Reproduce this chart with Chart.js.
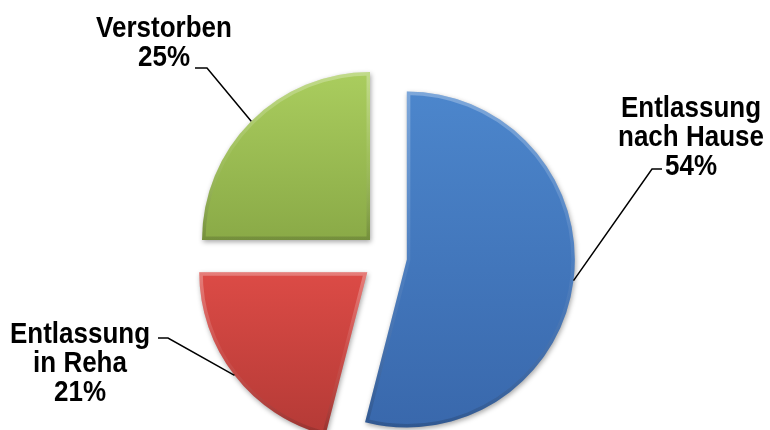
<!DOCTYPE html>
<html>
<head>
<meta charset="utf-8">
<script src="https://cdn.jsdelivr.net/npm/chart.js@4.4.1/dist/chart.umd.min.js"></script>
<style>
  html, body { margin: 0; background: #fff; }
  #wrap { width: 770px; height: 430px; }
</style>
</head>
<body>
<div id="wrap"><canvas id="c"></canvas></div>
<script>
// Entlassungsart — Anteile in Prozent
const categories = ['Entlassung nach Hause', 'Entlassung in Reha', 'Verstorben'];
const shares = [54, 21, 25];
const labelLines = [['Entlassung', 'nach Hause'], ['Entlassung', 'in Reha'], ['Verstorben']];

const topColors = ['#4C86CC', '#DC4B46', '#AACD5E'];
const bottomColors = ['#3968AC', '#B43A36', '#8AAA47'];

const RADIUS = 168;
const EXPLODE = [20, 25, 24];   // px each slice is pulled out along its mid-angle
const LINE_H = 29;

// label anchor: centre x, first baseline, knee and tail of the leader line
const labelLayout = [
  { x: 691, y: 117, knee: [652, 169], tail: [662, 169] },
  { x: 80,  y: 343, knee: [168, 338], tail: [158, 338] },
  { x: 164, y: 37,  knee: [207, 68],  tail: [195, 68] }
];

function sliceBox(el) {
  let ymin = el.y, ymax = el.y;
  for (let s = 0; s <= 40; s++) {
    const a = el.startAngle + (el.endAngle - el.startAngle) * s / 40;
    const y = el.y + Math.sin(a) * el.outerRadius;
    ymin = Math.min(ymin, y); ymax = Math.max(ymax, y);
  }
  return { ymin, ymax };
}

function arcPath(c, el) {
  c.beginPath();
  c.moveTo(el.x, el.y);
  c.arc(el.x, el.y, el.outerRadius, el.startAngle, el.endAngle);
  c.closePath();
}

const piePlugin = {
  id: 'pieDecor',
  // pull the slices apart and give each its own vertical gradient
  afterDatasetUpdate(chart, args) {
    const meta = args.meta;
    meta.data.forEach((el, i) => {
      const mid = (el.startAngle + el.endAngle) / 2;
      el.x += Math.cos(mid) * EXPLODE[i];
      el.y += Math.sin(mid) * EXPLODE[i];
      const { ymin, ymax } = sliceBox(el);
      const g = chart.ctx.createLinearGradient(0, ymin, 0, ymax);
      g.addColorStop(0, topColors[i]);
      g.addColorStop(1, bottomColors[i]);
      el.options.backgroundColor = g;
    });
  },
  beforeDatasetsDraw(chart) {
    const c = chart.ctx;
    c.save();
    c.shadowColor = 'rgba(0,0,0,0.35)';
    c.shadowBlur = 5;
    c.shadowOffsetX = 1;
    c.shadowOffsetY = 2;
  },
  afterDatasetsDraw(chart) {
    const c = chart.ctx;
    c.restore();
    const meta = chart.getDatasetMeta(0);
    // soft bevel along the slice edges
    meta.data.forEach((el) => {
      const { ymin, ymax } = sliceBox(el);
      c.save();
      arcPath(c, el);
      c.clip();
      const g = c.createLinearGradient(0, ymin, 0, ymax);
      g.addColorStop(0, 'rgba(255,255,255,0.28)');
      g.addColorStop(0.5, 'rgba(255,255,255,0.06)');
      g.addColorStop(1, 'rgba(0,0,0,0.16)');
      arcPath(c, el);
      c.lineWidth = 7;
      c.strokeStyle = g;
      c.stroke();
      c.restore();
    });
  },
  afterDraw(chart) {
    const c = chart.ctx;
    const meta = chart.getDatasetMeta(0);
    c.save();
    c.strokeStyle = '#000';
    c.lineWidth = 1.5;
    meta.data.forEach((el, i) => {
      const mid = (el.startAngle + el.endAngle) / 2;
      const px = el.x + Math.cos(mid) * el.outerRadius;
      const py = el.y + Math.sin(mid) * el.outerRadius;
      const L = labelLayout[i];
      c.beginPath();
      c.moveTo(px, py);
      c.lineTo(L.knee[0], L.knee[1]);
      c.lineTo(L.tail[0], L.tail[1]);
      c.stroke();
    });
    c.fillStyle = '#000';
    c.font = 'bold 26px "Liberation Sans", Arial, sans-serif';
    c.textAlign = 'center';
    c.textBaseline = 'alphabetic';
    categories.forEach((cat, i) => {
      const L = labelLayout[i];
      const lines = labelLines[i].concat(shares[i] + '%');
      lines.forEach((line, k) => {
        c.save();
        c.translate(L.x, L.y + k * LINE_H);
        c.scale(1, 1.12);
        c.fillText(line, 0, 0);
        c.restore();
      });
    });
    c.restore();
  }
};

new Chart(document.getElementById('c'), {
  type: 'pie',
  data: {
    labels: categories,
    datasets: [{
      data: shares,
      backgroundColor: (ctx) => topColors[ctx.dataIndex],
      borderWidth: 0
    }]
  },
  options: {
    responsive: true,
    maintainAspectRatio: false,
    animation: false,
    radius: RADIUS,
    layout: { padding: { left: 4, right: 0, top: 84, bottom: 0 } },
    plugins: {
      legend: { display: false },
      tooltip: { enabled: false }
    }
  },
  plugins: [piePlugin]
});
</script>
</body>
</html>
